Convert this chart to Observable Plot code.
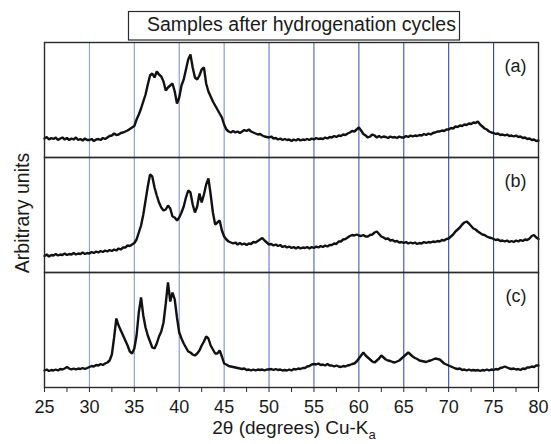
<!DOCTYPE html>
<html>
<head>
<meta charset="utf-8">
<script src="https://cdn.jsdelivr.net/npm/d3@7"></script>
<script src="https://cdn.jsdelivr.net/npm/@observablehq/plot@0.6"></script>
<style>
  html, body { margin: 0; padding: 0; background: #fff; }
  #chart { width: 551px; height: 444px; }
</style>
</head>
<body>
<div id="chart"></div>
<script>
// 2θ grid (degrees), step 0.25 from 25 to 80
const theta = d3.range(0, 221).map(i => 25 + i * 0.25);

const panels = ["(a)", "(b)", "(c)"];

// Panel (a) intensity (arbitrary units)
const intensityA = [
  19, 20.5, 18, 19.5,   18.5, 20, 17.5, 19,   20, 18, 19.5, 17.5,   19, 18, 20, 17.5,
  18.5, 17, 19, 17.5,   17.5, 18.5, 16.5, 18,   18.5, 17.5, 19.5, 18.5,   20, 21.5, 22, 24,
  22.5, 23, 24.5, 25,   26, 27, 28.5, 30,   31.5, 38, 43, 49,   56, 63, 73, 82,
  84, 80, 86, 83,   81, 76, 67, 70,   72, 74, 66, 54,   60, 72, 78, 88,
  98, 103, 90, 80,   78, 82, 88, 90,   74, 66, 61, 56,   52, 48, 44, 40,
  33, 28, 26, 25,   26.5, 25, 26, 24.5,   26, 27.5, 26.5, 28,   26, 25, 24, 23,
  23.5, 22, 21, 20.5,   20, 21, 19, 19.5,   18, 19, 17.5, 18.5,   17.5, 18, 16.5, 18,
  17, 18.5, 17, 18,   17.5, 18.5, 17.5, 19,   18, 19.5, 18.5, 19,   18.5, 20, 19, 20.5,
  20, 21.5, 20.5, 22,   21.5, 23, 22.5, 24,   25, 26.5, 26, 28,   30, 27, 23.5, 22,
  20, 21, 23, 22,   20, 21.5, 20, 21,   20.5, 19.5, 21, 20,   20.5, 19.5, 21, 20,
  20, 21.5, 20.5, 22,   21, 22, 21.5, 22.5,   22, 23.5, 22.5, 24,   23, 24.5, 25, 26,
  26, 27, 26.5, 28,   28, 29.5, 29, 31,   30.5, 32, 31.5, 33,   32.5, 34, 33.5, 35,
  34.5, 36, 33, 31,   29, 28, 26, 25,   24.5, 23.5, 24, 22.5,   23, 22, 23, 21.5,
  22, 21, 22, 20.5,   21, 19.5, 20, 18.5,   19, 17.5, 18, 16.5,   17
];

// Panel (b) intensity (arbitrary units)
const intensityB = [
  16.5, 18, 16, 17.5,   17, 18.5, 17, 18,   17.5, 19, 17.5, 18.5,   18, 19.5, 18, 19,
  18.5, 20, 18.5, 19.5,   19, 20.5, 19.5, 21,   20, 21.5, 20.5, 22,   21, 22.5, 21.5, 23,
  22, 24, 23, 25,   25, 27, 26.5, 28,   29.5, 33, 40, 47,   58, 72, 86, 98,
  96, 85, 77, 70,   65, 62, 63, 67,   64, 56, 55, 52,   55, 60, 66, 75,
  82, 80, 68, 60,   66, 79, 70, 78,   88, 94, 78, 60,   48, 50, 52, 42,
  36, 33, 31, 30,   29, 30, 28, 29.5,   28, 29, 27.5, 29,   28.5, 30.5, 30, 31.5,
  33, 34.5, 32, 30,   28, 28.5, 27, 28,   26.5, 27.5, 25.5, 26.5,   25, 26, 24.5, 25.5,
  24, 25.5, 24, 25,   24.5, 25.5, 24, 25.5,   24.5, 26, 25, 26.5,   25.5, 27, 26, 27.5,
  27.5, 29, 28.5, 31,   31, 33, 33.5, 35,   36.5, 37.5, 37, 38,   37, 36.5, 37.5, 36,
  36, 37.5, 38, 40,   41, 38.5, 36, 35,   33.5, 34, 32, 32.5,   31, 31.5, 30, 30.5,
  29.5, 30.5, 29, 30,   29, 30, 28.5, 29.5,   29, 30.5, 29.5, 30.5,   30, 31, 30.5, 31.5,
  31, 32.5, 32, 33.5,   34, 36, 38, 41,   43, 45, 48, 50,   51, 49, 46.5, 44,
  43, 41, 39.5, 38,   37.5, 36, 35, 34.5,   33.5, 32.5, 33, 31.5,   32, 31, 32, 30.5,
  31.5, 30.5, 32, 31,   32.5, 31.5, 33, 32.5,   34, 36.5, 37.5, 35,   33.5
];

// Panel (c) intensity (arbitrary units)
const intensityC = [
  17, 18, 16.5, 17.5,   17, 18, 17, 18.5,   18, 19, 20.5, 19,   18, 19, 18, 19,
  18.5, 19.5, 18.5, 19.5,   20.5, 21.5, 21, 22.5,   22, 23.5, 22.5, 24,   25, 27, 33, 50,
  69, 62, 57, 52,   47, 42, 36, 34,   39, 52, 75, 90,   72, 60, 52, 46,
  40, 39, 44, 51,   56, 65, 84, 105,   86, 95, 88, 70,   55, 49, 44, 40,
  36, 35, 33, 32,   34, 37, 42, 46,   51, 49, 42, 38,   34, 34, 37, 31,
  24, 23, 21.5, 21,   20.5, 20, 19.5, 19,   18.5, 19, 17.5, 18,   17, 18, 17, 18,
  17.5, 18, 17, 18,   18, 18.5, 17.5, 18.5,   17.5, 18, 17, 17.5,   17, 18, 17, 18.5,
  18, 19, 18.5, 19.5,   19.5, 21, 21.5, 23,   23.5, 23, 24, 22.5,   23, 22, 23.5, 22,
  22, 21, 22, 21,   20.5, 21.5, 21, 22,   22.5, 23.5, 24, 26,   29, 32, 35, 32,
  30, 28, 26, 25,   27, 29, 32, 30,   28, 27, 26.5, 25.5,   25, 26, 27, 29,
  31, 33, 35, 33,   31, 29.5, 28.5, 27,   26.5, 26, 25.5, 26.5,   27, 28, 29, 28.5,
  28, 26, 24, 23,   22, 21, 20, 19,   18.5, 19, 17.5, 18,   17, 18, 17, 17.5,
  17, 17.5, 16.5, 17.5,   17, 18, 17, 18,   17.5, 18.5, 18, 19.5,   20, 21, 20, 19,
  18.5, 19, 18, 18.5,   17.5, 19, 18.5, 20,   20, 21, 20.5, 22,   22
];

// Axis ticks and grid positions
const xTicks = d3.range(25, 80.01, 2.5);
const gridLines = [30, 35, 40, 45, 50, 55, 60, 65, 70, 75];

// ---- build table for Plot ----
const series = [intensityA, intensityB, intensityC];
const rows = [];
panels.forEach((p, k) => {
  series[k].forEach((v, i) => rows.push({panel: p, theta: theta[i], value: v}));
});

// styling (not data)
const gridColor = d3.scaleLinear().domain([30, 45, 55, 75])
  .range(["#8c9dd7", "#7d8fd0", "#4e62b4", "#2f4299"]);
const FONT = "'Liberation Sans', Arial, Helvetica, sans-serif";

const svg = Plot.plot({
  width: 551,
  height: 444,
  marginTop: 41,
  marginBottom: 57,
  marginLeft: 44,
  marginRight: 13,
  style: {fontFamily: FONT, fontSize: "18px", color: "#1a1a1a", background: "#fff"},
  x: {domain: [25, 80]},
  y: {domain: [0, 115], axis: null},
  fy: {domain: panels, axis: null, padding: 0},
  color: {type: "identity"},
  marks: [
    Plot.ruleX(gridLines, {x: d => d, stroke: d => gridColor(d), strokeWidth: 1.1}),
    Plot.lineY(rows, {x: "theta", y: "value", fy: "panel", stroke: "#111", strokeWidth: 2.4, strokeLinejoin: "miter"}),
    Plot.frame({stroke: "#2a2a2a", strokeWidth: 1.4}),
    Plot.text(panels, {fy: d => d, text: d => d, frameAnchor: "top-right", dx: -12, dy: 17, fontSize: 18, fill: "#1a1a1a"}),
    Plot.axisX({ticks: xTicks, tickSize: 5, tickPadding: 8, fontSize: 18,
      tickFormat: d => (d % 5 === 0 ? String(d) : ""), label: null, stroke: "#2a2a2a"})
  ]
});

const s = d3.select(svg);

// Title box
s.append("rect")
  .attr("x", 128.5).attr("y", 11.5).attr("width", 331).attr("height", 28.5)
  .attr("fill", "#fff").attr("stroke", "#2a2a2a").attr("stroke-width", 1.2);
s.append("text")
  .attr("x", 147).attr("y", 31)
  .attr("text-anchor", "start")
  .attr("font-family", FONT).attr("font-size", 19.5).attr("fill", "#1a1a1a")
  .text("Samples after hydrogenation cycles");

// Y label
s.append("text")
  .attr("transform", "translate(29,213) rotate(-90)")
  .attr("text-anchor", "middle")
  .attr("font-family", FONT).attr("font-size", 19.5).attr("fill", "#1a1a1a")
  .text("Arbitrary units");

// X label with subscript
const xl = s.append("text")
  .attr("x", 294).attr("y", 434)
  .attr("text-anchor", "middle")
  .attr("font-family", FONT).attr("font-size", 19).attr("fill", "#1a1a1a");
xl.append("tspan").text("2θ (degrees) Cu-K");
xl.append("tspan").attr("dy", 5).attr("font-size", 13).text("a");

document.getElementById("chart").appendChild(svg);
</script>
</body>
</html>
